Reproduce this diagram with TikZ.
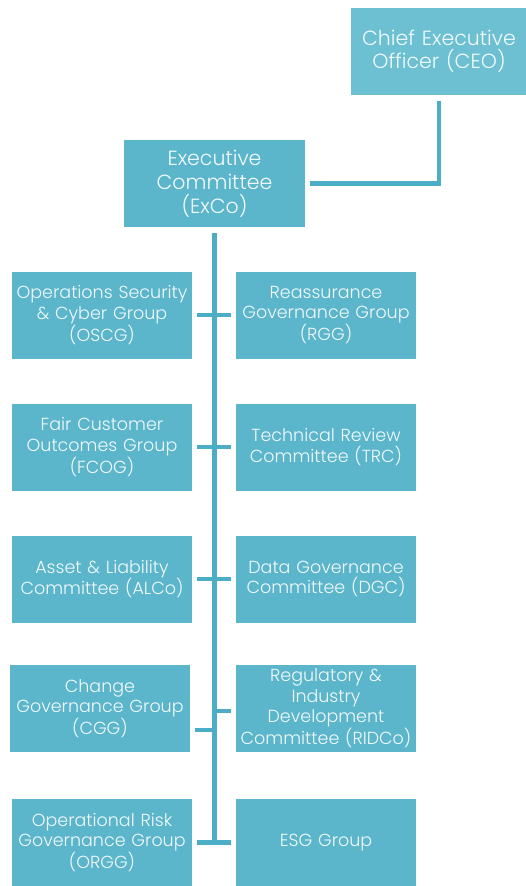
\documentclass[tikz,border=0pt]{standalone}
\usepackage{fontspec}
\setmainfont{Poppins}[UprightFont=* Light]
\usetikzlibrary{positioning,calc}

\definecolor{boxfill}{HTML}{5BB5CB}
\definecolor{topfill}{HTML}{6CC0D2}
\definecolor{linkcol}{HTML}{4BAEC6}
\definecolor{txtcol}{HTML}{F2FAFB}

\tikzset{
  grpbox/.style={rectangle,fill=boxfill,text=txtcol,minimum width=180pt,minimum height=87pt,
    text width=180pt,align=center,inner sep=0pt,font=\fontsize{17.5}{20.5}\selectfont},
  link/.style={draw=linkcol,line width=4.5pt}
}

\begin{document}
\begin{tikzpicture}[x=1pt,y=-1pt]
\useasboundingbox (0,0) rectangle (525,886);
% top of the chart
\node[grpbox,fill=topfill,minimum width=176pt,text width=176pt,font=\fontsize{20.5}{23}\selectfont] (ceo) at (439,51.5) {Chief Executive\\Officer (CEO)};
\node[grpbox,minimum width=181pt,text width=181pt,font=\fontsize{20.5}{24}\selectfont] (exco) at (214.5,183.5) {Executive\\Committee\\(ExCo)};
\draw[link,shorten <=6pt,shorten >=5pt] (ceo.south) |- (exco.east);
% groups, left and right of the spine
\node[grpbox] (oscg) at (102,315) {Operations Security\\\& Cyber Group\\(OSCG)};
\node[grpbox] (rgg) at (326,315) {Reassurance\\Governance Group\\(RGG)};
\node[grpbox] (fcog) at (102,447) {Fair Customer\\Outcomes Group\\(FCOG)};
\node[grpbox] (trc) at (326,447) {Technical Review\\Committee (TRC)};
\node[grpbox] (alco) at (102,579) {Asset \& Liability\\Committee (ALCo)};
\node[grpbox] (dgc) at (326,579) {Data Governance\\Committee (DGC)};
\node[grpbox] (cgg) at (100,708.5) {Change\\Governance Group\\(CGG)};
\node[grpbox] (ridco) at (326,708.5) {Regulatory \&\\Industry\\Development\\Committee (RIDCo)};
\node[grpbox] (orgg) at (102,842.5) {Operational Risk\\Governance Group\\(ORGG)};
\node[grpbox] (esg) at (326,842.5) {ESG Group};
% spine and tees
\coordinate (spinebot) at (214,845);
\draw[link,shorten <=6pt] (exco.south) -- (exco.south |- spinebot);
\draw[link,shorten <=5pt,shorten >=5pt] (oscg.east) -- (rgg.west);
\draw[link,shorten <=5pt,shorten >=5pt] (fcog.east) -- (trc.west);
\draw[link,shorten <=5pt,shorten >=5pt] (alco.east) -- (dgc.west);
\draw[link,shorten <=5pt] ($(cgg.east)+(0,21.5)$) -- ($(exco.south |- cgg.east)+(0,21.5)$);
\draw[link,shorten <=5pt] ($(ridco.west)+(0,2.5)$) -- ($(exco.south |- ridco.west)+(0,2.5)$);
\draw[link,shorten <=5pt,shorten >=5pt] (orgg.east) -- (esg.west);
\end{tikzpicture}
\end{document}
